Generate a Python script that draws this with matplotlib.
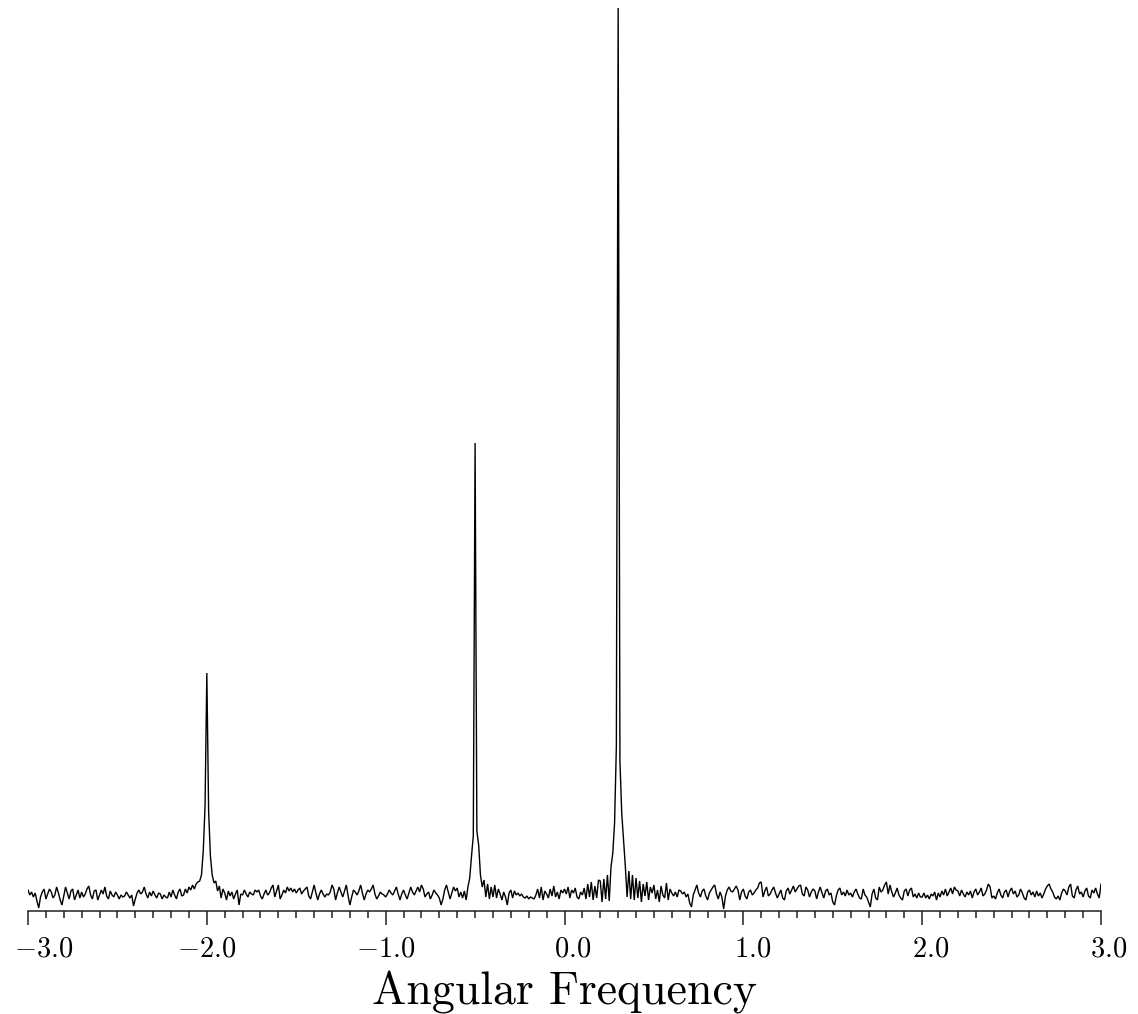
import numpy as np
import matplotlib
matplotlib.use("Agg")
import matplotlib.pyplot as plt
from matplotlib.ticker import MultipleLocator
from matplotlib.transforms import ScaledTranslation

plt.rcParams['mathtext.fontset'] = 'cm'

# frequency grid: -3.0 .. 3.0, step 0.01
freq_start, freq_stop, freq_step = -3.0, 3.0, 0.01

# spectrum magnitude (arbitrary units), one value per grid point
power = [
    21, 16, 19, 14, 18, 10, 3, 14, 19, 22, 12, 17, 22, 19, 13, 16, 24, 18, 11, 6,
    15, 24, 18, 12, 20, 22, 11, 16, 21, 13, 19, 14, 17, 22, 25, 16, 12, 20, 21, 11,
    16, 21, 17, 24, 15, 12, 20, 16, 14, 19, 16, 12, 16, 14, 15, 19, 16, 13, 16, 5,
    12, 18, 21, 17, 19, 24, 17, 13, 19, 15, 20, 16, 13, 18, 17, 12, 16, 14, 13, 19,
    14, 21, 16, 12, 19, 22, 15, 16, 22, 18, 24, 21, 26, 22, 27, 29, 30, 36, 60, 105,
    238, 100, 55, 36, 28, 30, 20, 25, 13, 22, 18, 11, 20, 15, 19, 12, 17, 21, 6, 17,
    16, 21, 17, 14, 19, 17, 16, 21, 19, 21, 15, 12, 17, 21, 16, 18, 23, 26, 14, 20,
    26, 12, 16, 21, 18, 24, 20, 23, 19, 22, 18, 21, 23, 17, 20, 22, 24, 15, 12, 19,
    26, 18, 11, 17, 21, 17, 14, 17, 16, 19, 26, 22, 11, 18, 24, 19, 14, 20, 26, 15,
    6, 14, 21, 19, 16, 20, 26, 18, 11, 17, 21, 19, 22, 26, 17, 12, 15, 19, 17, 16,
    14, 17, 21, 18, 16, 20, 24, 17, 11, 17, 21, 16, 12, 18, 24, 19, 16, 20, 24, 19,
    26, 22, 14, 17, 19, 12, 16, 21, 18, 16, 13, 6, 12, 21, 26, 19, 12, 18, 24, 20,
    23, 14, 19, 13, 20, 11, 24, 33, 55, 75, 468, 80, 66, 36, 24, 31, 14, 27, 12, 24,
    14, 26, 13, 22, 17, 11, 19, 14, 6, 18, 21, 13, 20, 16, 18, 15, 17, 14, 13, 15,
    12, 14, 13, 12, 16, 22, 13, 24, 11, 20, 17, 13, 22, 15, 25, 14, 19, 12, 21, 18,
    22, 17, 24, 13, 21, 18, 23, 14, 12, 19, 16, 23, 12, 27, 14, 29, 11, 25, 13, 31,
    30, 9, 32, 12, 36, 10, 44, 58, 88, 165, 903, 150, 98, 72, 45, 14, 40, 12, 36, 11,
    33, 13, 30, 9, 27, 15, 29, 11, 24, 18, 26, 12, 21, 9, 25, 16, 13, 28, 11, 22,
    18, 15, 19, 14, 21, 20, 17, 19, 14, 17, 8, 4, 16, 21, 26, 18, 14, 20, 22, 15,
    11, 18, 21, 24, 26, 17, 12, 19, 14, 2, 15, 21, 24, 20, 19, 22, 25, 21, 11, 19,
    22, 15, 12, 19, 21, 16, 18, 21, 23, 28, 29, 14, 20, 24, 15, 17, 21, 24, 18, 13,
    17, 21, 13, 11, 20, 23, 17, 21, 25, 19, 22, 25, 26, 17, 15, 24, 21, 14, 19, 22,
    20, 12, 19, 24, 18, 13, 20, 22, 16, 18, 9, 6, 15, 21, 23, 16, 19, 15, 21, 16,
    18, 14, 19, 22, 17, 13, 12, 22, 16, 14, 9, 4, 17, 22, 13, 11, 24, 19, 21, 26,
    29, 17, 26, 19, 14, 18, 23, 16, 13, 11, 20, 22, 15, 21, 23, 14, 17, 13, 18, 14,
    14, 18, 13, 16, 12, 17, 15, 19, 11, 18, 14, 20, 16, 22, 15, 19, 23, 17, 24, 21,
    20, 15, 21, 17, 14, 19, 16, 20, 13, 19, 22, 16, 19, 23, 15, 17, 21, 27, 24, 13,
    15, 12, 18, 22, 16, 13, 19, 21, 14, 20, 23, 17, 20, 14, 16, 22, 18, 13, 11, 19,
    21, 16, 19, 14, 20, 15, 18, 13, 17, 22, 25, 27, 22, 19, 14, 12, 15, 11, 18, 22,
    20, 16, 24, 27, 15, 13, 21, 25, 17, 19, 14, 20, 23, 15, 13, 21, 18, 23, 17, 13,
    27,
]

tick_values = [-3.0, -2.0, -1.0, 0.0, 1.0, 2.0, 3.0]
tick_labels = [r'$-3.0$', r'$-2.0$', r'$-1.0$', r'$0.0$', r'$1.0$', r'$2.0$', r'$3.0$']
label_shift_px = [16, 0, 0, 8, 9, 8, 8]

n = int(round((freq_stop - freq_start) / freq_step)) + 1
freq = np.linspace(freq_start, freq_stop, n)
power = np.array(power, dtype=float)

fig = plt.figure(figsize=(11.38, 10.14), dpi=100)
ax = fig.add_axes([28 / 1138, 103 / 1014, 1073 / 1138, 903 / 1014])

ax.plot(freq, power, color='black', lw=1.0, solid_joinstyle='miter')

ax.set_xlim(freq_start, freq_stop)
ax.set_ylim(0, power.max())

for side in ('top', 'left', 'right'):
    ax.spines[side].set_visible(False)
ax.spines['bottom'].set_color('#222222')
ax.spines['bottom'].set_linewidth(1.1)
ax.set_yticks([])

ax.set_xticks(tick_values)
ax.set_xticklabels(tick_labels, fontsize=20.5)
ax.xaxis.set_minor_locator(MultipleLocator(0.1))
ax.tick_params(axis='x', which='major', direction='out', length=10, width=1.1,
               color='#222222', pad=7)
ax.tick_params(axis='x', which='minor', direction='out', length=5, width=1.1,
               color='#222222')

for lab, dx in zip(ax.get_xticklabels(), label_shift_px):
    lab.set_transform(lab.get_transform() + ScaledTranslation(dx / 100, 0, fig.dpi_scale_trans))

ax.set_xlabel('Angular Frequency', family='cmr10', fontsize=33, labelpad=6)

fig.savefig('out.png', dpi=100)
